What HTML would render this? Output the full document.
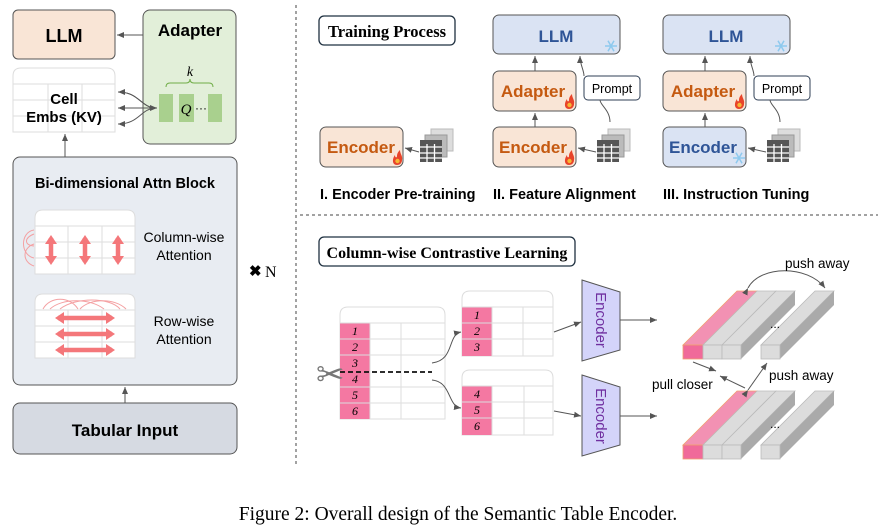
<!DOCTYPE html>
<html><head><meta charset="utf-8"><style>
html,body{margin:0;padding:0;background:#fff}
svg{display:block}
text{font-family:"Liberation Sans",sans-serif}
.b{font-weight:bold}
.t{font-family:"Liberation Serif",serif}
</style></head><body>
<svg width="878" height="532" viewBox="0 0 878 532" xmlns="http://www.w3.org/2000/svg">
<defs>
<marker id="ar" markerWidth="8" markerHeight="8" refX="7" refY="4" orient="auto" markerUnits="userSpaceOnUse"><path d="M0,1 L7,4 L0,7 z" fill="#555"/></marker>
<marker id="rr" markerWidth="12" markerHeight="12" refX="6" refY="6" orient="auto-start-reverse" markerUnits="userSpaceOnUse"><path d="M0,0 L9,6 L0,12 z" fill="#f4777a"/></marker>
<g id="tic">
 <rect x="11" y="-11" width="22" height="22" fill="#ddd" stroke="#bbb"/>
 <rect x="5" y="-5" width="22" height="22" fill="#bbb" stroke="#999"/>
 <rect x="0" y="0" width="22" height="22" fill="#555"/>
 <g stroke="#fff" stroke-width="1.3"><line x1="0" y1="7" x2="22" y2="7"/><line x1="0" y1="13" x2="22" y2="13"/><line x1="0" y1="18" x2="22" y2="18"/><line x1="7" y1="4" x2="7" y2="22"/><line x1="14.5" y1="4" x2="14.5" y2="22"/></g>
</g>
<g id="fire"><path d="M0,8 C-5,8 -5,2 -2,-2 C-2,1 0,1 0,-1 C0,-4 2,-6 3,-7 C3,-3 6,-1 5,3 C5,6 3,8 0,8z" fill="#e8442a"/><circle cx="0.5" cy="4" r="2.2" fill="#f7b733"/></g>
<g id="snow" stroke="#8ec9ee" stroke-width="1.5" fill="none"><line x1="-6" y1="0" x2="6" y2="0"/><line x1="-3" y1="-5.2" x2="3" y2="5.2"/><line x1="3" y1="-5.2" x2="-3" y2="5.2"/></g>
</defs>

<rect x="13" y="10" width="102" height="49" rx="5" fill="#f9e5d6" stroke="#555"/>
<text x="64" y="42" font-size="18" class="b" text-anchor="middle">LLM</text>
<rect x="143" y="10" width="93" height="134" rx="7" fill="#e2efd9" stroke="#555"/>
<text x="190" y="36" font-size="17" class="b" text-anchor="middle">Adapter</text>
<text x="190" y="76" font-size="14" font-style="italic" text-anchor="middle" class="t">k</text>
<path d="M166,87 Q166,83 170,83 L186,83 Q190,83 190,79 Q190,83 194,83 L209,83 Q213,83 213,87" fill="none" stroke="#70ad47"/>
<rect x="159" y="94" width="14" height="28" fill="#a9d08e"/>
<rect x="179" y="94" width="15" height="28" fill="#a9d08e"/>
<rect x="208" y="94" width="14" height="28" fill="#a9d08e"/>
<text x="186" y="114" font-size="15" font-style="italic" text-anchor="middle" class="t">Q</text>
<text x="195" y="112" font-size="12">···</text>
<line x1="143" y1="35" x2="117" y2="35" stroke="#555" marker-end="url(#ar)"/>
<path d="M13,132 L13,76 Q13,68 21,68 L107,68 Q115,68 115,76 L115,132 Z" fill="#fff" stroke="#ddd"/>
<g stroke="#ddd"><line x1="13" y1="84" x2="115" y2="84"/><line x1="13" y1="100" x2="115" y2="100"/><line x1="13" y1="116" x2="115" y2="116"/><line x1="48" y1="84" x2="48" y2="132"/><line x1="82" y1="84" x2="82" y2="132"/></g>
<text x="64" y="104" font-size="15" class="b" text-anchor="middle">Cell</text>
<text x="64" y="122" font-size="15" class="b" text-anchor="middle">Embs (KV)</text>
<g fill="none" stroke="#555">
<path d="M157,108 C140,108 140,92 118,92" marker-end="url(#ar)"/>
<line x1="157" y1="108" x2="118" y2="108" marker-end="url(#ar)"/>
<path d="M157,108 C140,108 140,124 118,124" marker-end="url(#ar)"/>
<path d="M118,92 C140,92 140,108 157,108" marker-end="url(#ar)"/>
<line x1="65" y1="157" x2="65" y2="134" marker-end="url(#ar)"/>
<line x1="125" y1="403" x2="125" y2="387" marker-end="url(#ar)"/>
</g>
<rect x="13" y="157" width="224" height="228" rx="7" fill="#e8ecf2" stroke="#555"/>
<text x="125" y="188" font-size="14.5" class="b" text-anchor="middle">Bi-dimensional Attn Block</text>
<path d="M35,274 L35,218 Q35,210 43,210 L127,210 Q135,210 135,218 L135,274 Z" fill="#fff" stroke="#ddd"/>
<g stroke="#ddd"><line x1="35" y1="226" x2="135" y2="226"/><line x1="35" y1="242" x2="135" y2="242"/><line x1="35" y1="258" x2="135" y2="258"/><line x1="68" y1="226" x2="68" y2="274"/><line x1="102" y1="226" x2="102" y2="274"/></g>
<g stroke="#f4777a" stroke-width="4.5"><line x1="51" y1="238" x2="51" y2="262" marker-start="url(#rr)" marker-end="url(#rr)"/><line x1="85" y1="238" x2="85" y2="262" marker-start="url(#rr)" marker-end="url(#rr)"/><line x1="118" y1="238" x2="118" y2="262" marker-start="url(#rr)" marker-end="url(#rr)"/></g>
<g fill="none" stroke="#f4a0a2" stroke-width="1"><path d="M34,230 C20,232 20,255 34,258"/><path d="M34,234 C24,238 24,245 34,246"/><path d="M34,244 C22,248 22,262 34,266"/></g>
<text x="184" y="242" font-size="14" text-anchor="middle">Column-wise</text>
<text x="184" y="260" font-size="14" text-anchor="middle">Attention</text>
<path d="M35,358 L35,302 Q35,294 43,294 L127,294 Q135,294 135,302 L135,358 Z" fill="#fff" stroke="#ddd"/>
<g stroke="#ddd"><line x1="35" y1="310" x2="135" y2="310"/><line x1="35" y1="326" x2="135" y2="326"/><line x1="35" y1="342" x2="135" y2="342"/><line x1="68" y1="310" x2="68" y2="358"/><line x1="102" y1="310" x2="102" y2="358"/></g>
<g stroke="#f4777a" stroke-width="4.5"><line x1="58" y1="318" x2="112" y2="318" marker-start="url(#rr)" marker-end="url(#rr)"/><line x1="58" y1="334" x2="112" y2="334" marker-start="url(#rr)" marker-end="url(#rr)"/><line x1="58" y1="350" x2="112" y2="350" marker-start="url(#rr)" marker-end="url(#rr)"/></g>
<g fill="none" stroke="#f4a0a2"><path d="M43,309 C50,296 70,296 78,309"/><path d="M50,309 C62,298 90,298 104,309"/><path d="M80,309 C90,298 115,298 126,309"/><path d="M60,309 C75,297 110,297 120,309"/></g>
<text x="184" y="326" font-size="14" text-anchor="middle">Row-wise</text>
<text x="184" y="344" font-size="14" text-anchor="middle">Attention</text>
<rect x="13" y="403" width="224" height="51" rx="7" fill="#d6dae2" stroke="#555"/>
<text x="125" y="436" font-size="17" class="b" text-anchor="middle">Tabular Input</text>
<text x="249" y="276" font-size="15" class="b">✖</text>
<text x="265" y="277" font-size="16" class="t">N</text>

<line x1="296" y1="5" x2="296" y2="466" stroke="#444" stroke-dasharray="3,3"/>
<line x1="300" y1="215" x2="878" y2="215" stroke="#444" stroke-dasharray="3,3"/>

<rect x="319" y="16" width="136" height="29" rx="5" fill="#fff" stroke="#1f3040" stroke-width="1.3"/>
<text x="387" y="37" font-size="16.5" class="b t" text-anchor="middle">Training Process</text>
<rect x="320" y="127" width="83" height="40" rx="6" fill="#f9e5d6" stroke="#555"/>
<text x="361" y="153" font-size="17" class="b" fill="#c55a11" text-anchor="middle">Encoder</text>
<use href="#fire" x="397" y="157"/>
<use href="#tic" x="420" y="140"/>
<line x1="419" y1="152" x2="405" y2="148" stroke="#555" marker-end="url(#ar)"/>
<text x="320" y="199" font-size="14.5" class="b">I. Encoder Pre-training</text>

<rect x="493" y="15" width="127" height="39" rx="6" fill="#dae3f3" stroke="#555"/>
<text x="556" y="42" font-size="17" class="b" fill="#2f5597" text-anchor="middle">LLM</text>
<use href="#snow" x="611" y="46"/>
<rect x="493" y="71" width="83" height="40" rx="6" fill="#f9e5d6" stroke="#555"/>
<text x="533" y="97" font-size="17" class="b" fill="#c55a11" text-anchor="middle">Adapter</text>
<use href="#fire" x="569" y="101"/>
<rect x="493" y="127" width="83" height="40" rx="6" fill="#f9e5d6" stroke="#555"/>
<text x="533" y="153" font-size="17" class="b" fill="#c55a11" text-anchor="middle">Encoder</text>
<use href="#fire" x="569" y="157"/>
<rect x="584" y="76" width="56" height="24" rx="4" fill="#fff" stroke="#2f3f55"/>
<text x="612" y="93" font-size="12.5" text-anchor="middle">Prompt</text>
<use href="#tic" x="597" y="140"/>
<g fill="none" stroke="#555"><line x1="535" y1="71" x2="535" y2="56" marker-end="url(#ar)"/><line x1="535" y1="127" x2="535" y2="113" marker-end="url(#ar)"/><line x1="596" y1="152" x2="578" y2="148" marker-end="url(#ar)"/><path d="M610,122 C610,110 600,105 600,100"/><path d="M584,76 C584,70 580,65 580,56" marker-end="url(#ar)"/></g>
<text x="493" y="199" font-size="14.5" class="b">II. Feature Alignment</text>

<rect x="663" y="15" width="127" height="39" rx="6" fill="#dae3f3" stroke="#555"/>
<text x="726" y="42" font-size="17" class="b" fill="#2f5597" text-anchor="middle">LLM</text>
<use href="#snow" x="781" y="46"/>
<rect x="663" y="71" width="83" height="40" rx="6" fill="#f9e5d6" stroke="#555"/>
<text x="703" y="97" font-size="17" class="b" fill="#c55a11" text-anchor="middle">Adapter</text>
<use href="#fire" x="739" y="101"/>
<rect x="663" y="127" width="83" height="40" rx="6" fill="#dae3f3" stroke="#555"/>
<text x="703" y="153" font-size="17" class="b" fill="#2f5597" text-anchor="middle">Encoder</text>
<use href="#snow" x="739" y="158"/>
<rect x="754" y="76" width="56" height="24" rx="4" fill="#fff" stroke="#2f3f55"/>
<text x="782" y="93" font-size="12.5" text-anchor="middle">Prompt</text>
<use href="#tic" x="767" y="140"/>
<g fill="none" stroke="#555"><line x1="705" y1="71" x2="705" y2="56" marker-end="url(#ar)"/><line x1="705" y1="127" x2="705" y2="113" marker-end="url(#ar)"/><line x1="766" y1="152" x2="748" y2="148" marker-end="url(#ar)"/><path d="M780,122 C780,110 770,105 770,100"/><path d="M754,76 C754,70 750,65 750,56" marker-end="url(#ar)"/></g>
<text x="663" y="199" font-size="14.5" class="b">III. Instruction Tuning</text>

<rect x="319" y="237" width="256" height="29" rx="5" fill="#fff" stroke="#1f3040" stroke-width="1.3"/>
<text x="447" y="258" font-size="16" class="b t" text-anchor="middle">Column-wise Contrastive Learning</text>
<path d="M340,419 L340,315 Q340,307 348,307 L437,307 Q445,307 445,315 L445,419 Z" fill="#fff" stroke="#ddd"/>
<rect x="340" y="323" width="30" height="96" fill="#f478a2"/>
<g stroke="#ddd"><line x1="340" y1="323" x2="445" y2="323"/><line x1="340" y1="339" x2="445" y2="339"/><line x1="340" y1="355" x2="445" y2="355"/><line x1="340" y1="387" x2="445" y2="387"/><line x1="340" y1="403" x2="445" y2="403"/><line x1="370" y1="323" x2="370" y2="419"/><line x1="401" y1="323" x2="401" y2="419"/></g>
<g font-size="12" font-style="italic" text-anchor="middle"><text x="355" y="335" class="t">1</text><text x="355" y="351" class="t">2</text><text x="355" y="367" class="t">3</text><text x="355" y="383" class="t">4</text><text x="355" y="399" class="t">5</text><text x="355" y="415" class="t">6</text></g>
<line x1="340" y1="372" x2="432" y2="372" stroke="#111" stroke-width="1.8" stroke-dasharray="5,3"/>
<text x="316" y="386" font-size="34" fill="#777">✂</text>
<path d="M462,356 L462,299 Q462,291 470,291 L545,291 Q553,291 553,299 L553,356 Z" fill="#fff" stroke="#ddd"/>
<rect x="462" y="307" width="30" height="49" fill="#f478a2"/>
<g stroke="#ddd"><line x1="462" y1="307" x2="553" y2="307"/><line x1="462" y1="323" x2="553" y2="323"/><line x1="462" y1="339" x2="553" y2="339"/><line x1="492" y1="307" x2="492" y2="356"/><line x1="523" y1="307" x2="523" y2="356"/></g>
<g font-size="12" font-style="italic" text-anchor="middle"><text x="477" y="319" class="t">1</text><text x="477" y="335" class="t">2</text><text x="477" y="351" class="t">3</text></g>
<path d="M462,435 L462,378 Q462,370 470,370 L545,370 Q553,370 553,378 L553,435 Z" fill="#fff" stroke="#ddd"/>
<rect x="462" y="386" width="30" height="49" fill="#f478a2"/>
<g stroke="#ddd"><line x1="462" y1="386" x2="553" y2="386"/><line x1="462" y1="402" x2="553" y2="402"/><line x1="462" y1="418" x2="553" y2="418"/><line x1="492" y1="386" x2="492" y2="435"/><line x1="524" y1="386" x2="524" y2="435"/></g>
<g font-size="12" font-style="italic" text-anchor="middle"><text x="477" y="398" class="t">4</text><text x="477" y="414" class="t">5</text><text x="477" y="430" class="t">6</text></g>
<g fill="none" stroke="#555">
<path d="M432,363 C455,360 447,335 461,332" marker-end="url(#ar)"/>
<path d="M432,380 C452,382 447,406 461,408" marker-end="url(#ar)"/>
<line x1="554" y1="332" x2="581" y2="322" marker-end="url(#ar)"/>
<line x1="554" y1="411" x2="581" y2="416" marker-end="url(#ar)"/>
<line x1="620" y1="320" x2="657" y2="320" marker-end="url(#ar)"/>
<line x1="620" y1="416" x2="657" y2="416" marker-end="url(#ar)"/>
</g>
<polygon points="582,280 620,292 620,350 582,361" fill="#d4d4fa" stroke="#555"/>
<text transform="translate(596,320) rotate(90)" font-size="15" fill="#7030a0" text-anchor="middle">Encoder</text>
<polygon points="582,375 620,387 620,445 582,456" fill="#d4d4fa" stroke="#555"/>
<text transform="translate(596,416) rotate(90)" font-size="15" fill="#7030a0" text-anchor="middle">Encoder</text>

<g id="bars1">
 <polygon points="683,345 737,291 757,291 703,345" fill="#f291b3" stroke="#f0a070" stroke-width="0.8"/>
 <polygon points="703,345 757,291 776,291 722,345" fill="#dcdcdc" stroke="#bbb" stroke-width="0.8"/>
 <polygon points="722,345 776,291 795,291 741,345" fill="#dcdcdc" stroke="#bbb" stroke-width="0.8"/>
 <polygon points="741,345 795,291 795,305 741,359" fill="#aaa"/>
 <rect x="683" y="345" width="20" height="14" fill="#f06a9a" stroke="#f0a070" stroke-width="0.8"/>
 <rect x="703" y="345" width="19" height="14" fill="#dcdcdc" stroke="#bbb" stroke-width="0.8"/>
 <rect x="722" y="345" width="19" height="14" fill="#dcdcdc" stroke="#bbb" stroke-width="0.8"/>
 <polygon points="761,345 815,291 834,291 780,345" fill="#dcdcdc" stroke="#bbb" stroke-width="0.8"/>
 <polygon points="780,345 834,291 834,305 780,359" fill="#aaa"/>
 <rect x="761" y="345" width="19" height="14" fill="#dcdcdc" stroke="#bbb" stroke-width="0.8"/>
 <text x="770" y="328" font-size="12">...</text>
</g>
<use href="#bars1" y="100"/>
<g fill="none" stroke="#555">
<path d="M748,288 C760,265 808,265 825,288" marker-start="url(#ar)" marker-end="url(#ar)"/>
<line x1="693" y1="362" x2="716" y2="371" marker-end="url(#ar)"/>
<line x1="745" y1="388" x2="720" y2="376" marker-end="url(#ar)"/>
<line x1="748" y1="390" x2="767" y2="363" marker-start="url(#ar)" marker-end="url(#ar)"/>
</g>
<text x="785" y="268" font-size="13.5">push away</text>
<text x="769" y="380" font-size="13.5">push away</text>
<text x="652" y="389" font-size="13.5">pull closer</text>

<text x="458" y="520" font-size="19.5" class="t" text-anchor="middle">Figure 2: Overall design of the Semantic Table Encoder.</text>
</svg>
</body></html>
